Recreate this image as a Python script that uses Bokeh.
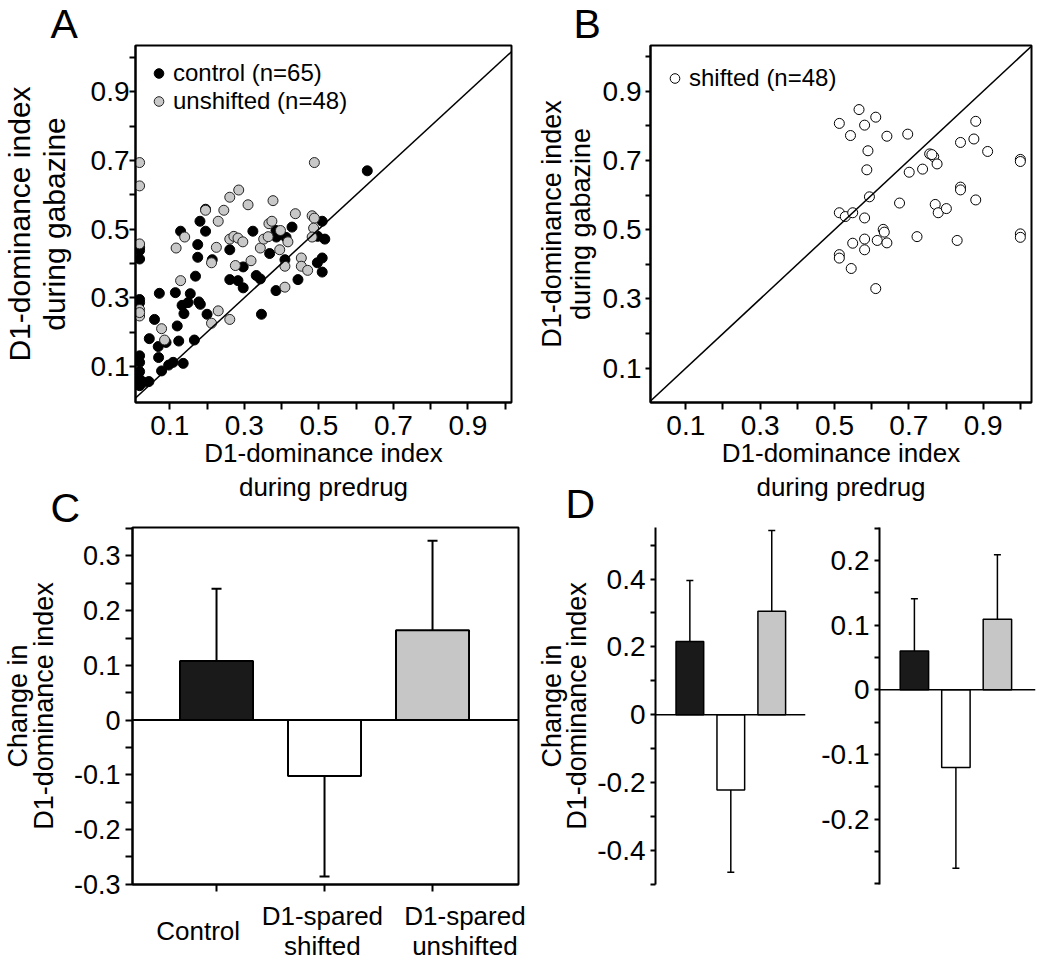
from bokeh.plotting import figure
from bokeh.layouts import row, column
from bokeh.models import (FixedTicker, Range1d, Legend, LegendItem, Span, Slope,
                          CustomJSTickFormatter)
from bokeh.core.properties import value
from bokeh.embed import file_html
from bokeh.resources import INLINE

FONT = "Liberation Sans"

# ---------------- data ----------------
# Panel A: control (n=65)
ctrl_pre = [0.019, 0.019, 0.019, 0.019, 0.019, 0.019, 0.019, 0.019, 0.019, 0.030,
            0.044, 0.045, 0.059, 0.069, 0.072, 0.070, 0.078, 0.090, 0.097, 0.109,
            0.120, 0.115, 0.124, 0.129, 0.133, 0.138, 0.136, 0.149, 0.155, 0.169,
            0.175, 0.175, 0.178, 0.182, 0.166, 0.181, 0.196, 0.196, 0.200, 0.214,
            0.261, 0.261, 0.283, 0.297, 0.297, 0.323, 0.332, 0.343, 0.346, 0.368,
            0.385, 0.386, 0.385, 0.409, 0.428, 0.444, 0.496, 0.497, 0.509, 0.509,
            0.509, 0.516, 0.630, 0.019, 0.412]
ctrl_gab = [0.447, 0.438, 0.413, 0.295, 0.286, 0.131, 0.085, 0.063, 0.044, 0.054,
            0.056, 0.181, 0.237, 0.158, 0.313, 0.126, 0.087, 0.170, 0.104, 0.112,
            0.218, 0.315, 0.174, 0.494, 0.278, 0.254, 0.109, 0.286, 0.312, 0.363,
            0.455, 0.418, 0.288, 0.281, 0.177, 0.523, 0.558, 0.494, 0.252, 0.411,
            0.440, 0.353, 0.350, 0.390, 0.329, 0.494, 0.365, 0.355, 0.252, 0.429,
            0.496, 0.477, 0.321, 0.411, 0.506, 0.353, 0.402, 0.479, 0.523, 0.416,
            0.375, 0.471, 0.670, 0.112, 0.476]
# Panel A: unshifted (n=48)
uns_pre = [0.019, 0.019, 0.019, 0.019, 0.019, 0.019, 0.078, 0.086, 0.117, 0.129,
           0.140, 0.196, 0.225, 0.230, 0.212, 0.212, 0.230, 0.245, 0.261, 0.285,
           0.261, 0.272, 0.283, 0.296, 0.276, 0.261, 0.310, 0.318, 0.343, 0.352,
           0.364, 0.366, 0.374, 0.377, 0.397, 0.395, 0.409, 0.409, 0.417, 0.437,
           0.453, 0.453, 0.470, 0.482, 0.488, 0.486, 0.482, 0.488]
uns_gab = [0.694, 0.626, 0.457, 0.266, 0.247, 0.257, 0.210, 0.177, 0.445, 0.350,
           0.477, 0.555, 0.447, 0.523, 0.402, 0.226, 0.262, 0.555, 0.593, 0.614,
           0.471, 0.479, 0.474, 0.463, 0.394, 0.237, 0.571, 0.408, 0.445, 0.471,
           0.478, 0.516, 0.523, 0.583, 0.496, 0.440, 0.392, 0.331, 0.463, 0.545,
           0.416, 0.392, 0.380, 0.539, 0.532, 0.503, 0.477, 0.694]
# Panel B: shifted (n=48)
sh_pre = [0.513, 0.566, 0.611, 0.543, 0.581, 0.641, 0.697, 0.590, 0.587, 0.594,
          0.513, 0.529, 0.549, 0.581, 0.581, 0.549, 0.581, 0.513, 0.513, 0.545,
          0.611, 0.615, 0.631, 0.634, 0.641, 0.675, 0.701, 0.737, 0.756, 0.767,
          0.776, 0.722, 0.771, 0.779, 0.801, 0.830, 0.839, 0.839, 0.839, 0.875,
          0.880, 0.880, 0.912, 1.000, 1.000, 1.000, 1.000, 0.762]
sh_gab = [0.807, 0.847, 0.825, 0.772, 0.802, 0.770, 0.776, 0.728, 0.673, 0.595,
          0.549, 0.538, 0.549, 0.534, 0.473, 0.461, 0.442, 0.428, 0.418, 0.388,
          0.330, 0.469, 0.501, 0.493, 0.462, 0.577, 0.666, 0.675, 0.719, 0.711,
          0.690, 0.480, 0.573, 0.549, 0.561, 0.469, 0.752, 0.623, 0.615, 0.762,
          0.813, 0.586, 0.726, 0.703, 0.697, 0.488, 0.478, 0.717]

# Panels C / D: change in D1-dominance index (mean, error)
groups = ["Control", "D1-spared\nshifted", "D1-spared\nunshifted"]
bar_colors = ["#1a1a1a", "#ffffff", "#c6c6c6"]
c_mean = [0.108, -0.102, 0.164]
c_err = [0.132, 0.184, 0.164]
d1_mean = [0.216, -0.222, 0.305]
d1_err = [0.180, 0.243, 0.238]
d2_mean = [0.060, -0.120, 0.109]
d2_err = [0.081, 0.156, 0.100]

scatter_major = [0.1, 0.3, 0.5, 0.7, 0.9]
scatter_minor = [0.2, 0.4, 0.6, 0.8, 1.0]
xlab_line1 = "D1-dominance index"
xlab_line2 = "during predrug"

# ---------------- layout constants (page starts at 0,0) ----------------
TOTAL_W = 1040
TOP_STRIP_H = 41
ROW1_H = 436
MID_STRIP_H = 48
ROW2_H = 373
BOTTOM_STRIP_H = 64
A_W, A_L, A_R = 520, 135, 9
B_W, B_L, B_R = 520, 130, 9
C_W, C_L, C_R = 533, 132, 15


def fmt():
    return CustomJSTickFormatter(
        code="return Math.abs(tick) < 1e-9 ? '0' : tick.toFixed(1);")


def style_axis(ax, tick_out, standoff, size="28px", lw=2):
    ax.major_tick_out = tick_out
    ax.major_tick_in = 0
    ax.minor_tick_out = tick_out
    ax.minor_tick_in = 0
    ax.major_tick_line_width = lw
    ax.minor_tick_line_width = lw
    ax.axis_line_width = lw
    ax.axis_line_color = "black"
    ax.major_tick_line_color = "black"
    ax.minor_tick_line_color = "black"
    ax.major_label_text_font = FONT
    ax.major_label_text_font_size = size
    ax.major_label_text_color = "black"
    ax.major_label_standoff = standoff
    ax.axis_label_text_font = FONT
    ax.axis_label_text_font_style = "normal"
    ax.axis_label_text_color = "black"


def base_fig(w, h, left, right, top, bottom, xr, yr, outline=True):
    p = figure(width=w, height=h, x_range=Range1d(*xr), y_range=Range1d(*yr),
               output_backend="svg", toolbar_location=None,
               min_border_left=left, min_border_right=right,
               min_border_top=top, min_border_bottom=bottom)
    p.grid.visible = False
    p.background_fill_color = "white"
    p.border_fill_color = "white"
    if outline:
        p.outline_line_color = "black"
        p.outline_line_width = 2
        p.outline_line_alpha = 1
    else:
        p.outline_line_color = None
    return p


def text_strip(w, h):
    s = figure(width=w, height=h, x_range=Range1d(0, w), y_range=Range1d(0, h),
               output_backend="svg", toolbar_location=None, min_border=0,
               x_axis_type=None, y_axis_type=None)
    s.grid.visible = False
    s.outline_line_color = None
    return s


def add_texts(s, xs, ys, texts, size, align="left", line_height=1.2):
    s.text(x=xs, y=ys, text=texts, text_font=value(FONT),
           text_font_size=value(size), text_color="black",
           text_align=align, text_baseline="middle", text_line_height=line_height)


def scatter_axes(p, ylab_size, ylab_standoff, ylab_lh, ytick_standoff, ytick_out):
    for ax in (p.xaxis[0], p.yaxis[0]):
        ax.ticker = FixedTicker(ticks=scatter_major, minor_ticks=scatter_minor)
        ax.formatter = fmt()
    style_axis(p.xaxis[0], 7, 6)
    style_axis(p.yaxis[0], ytick_out, ytick_standoff)
    p.xaxis.axis_label = xlab_line1
    p.xaxis.axis_label_text_font_size = "26px"
    p.xaxis.axis_label_standoff = 0
    p.yaxis.axis_label = "D1-dominance index\nduring gabazine"
    p.yaxis.axis_label_text_font_size = ylab_size
    p.yaxis.axis_label_text_line_height = ylab_lh
    p.yaxis.axis_label_standoff = ylab_standoff
    p.add_layout(Slope(gradient=1, y_intercept=0, line_color="black", line_width=1.5))


def make_legend(items, loc, standoff):
    return Legend(items=items, location=loc, padding=0, margin=0,
                  glyph_width=25, glyph_height=24, label_height=24,
                  label_standoff=standoff, spacing=0,
                  label_text_font=FONT, label_text_font_size="24px",
                  label_text_color="black",
                  background_fill_alpha=0, border_line_color=None)


# ---------------- panel letters A, B ----------------
top_strip = text_strip(TOTAL_W, TOP_STRIP_H)
add_texts(top_strip, [50, 573], [18, 18], ["A", "B"], "41px")

# ---------------- Panel A ----------------
pA = base_fig(A_W, ROW1_H, A_L, A_R, 2, 75, (0.008, 1.017), (-0.005, 1.035))
scatter_axes(pA, "30px", 17, 1.04, 0, 6)
rA1 = pA.scatter(ctrl_pre, ctrl_gab, size=10, fill_color="black", line_color="black",
                 line_width=1)
rA2 = pA.scatter(uns_pre, uns_gab, size=10, fill_color="#c8c8c8", line_color="#222222",
                 line_width=1)
pA.add_layout(make_legend([LegendItem(label="control (n=65)", renderers=[rA1]),
                           LegendItem(label="unshifted (n=48)", renderers=[rA2])],
                          (11, 287), 2))

# ---------------- Panel B ----------------
pB = base_fig(B_W, ROW1_H, B_L, B_R, 4, 75, (0.005, 1.030), (0.001, 1.032))
scatter_axes(pB, "27px", 4, 0.95, 4, 5)
rB = pB.scatter(sh_pre, sh_gab, size=10, fill_color="white", line_color="black",
                line_width=1)
pB.add_layout(make_legend([LegendItem(label="shifted (n=48)", renderers=[rB])],
                          (12, 310), 2))

# ---------------- second x-label line + letters C, D ----------------
a_mid = A_L + (A_W - A_L - A_R) / 2
b_mid = A_W + B_L + (B_W - B_L - B_R) / 2
mid_strip = text_strip(TOTAL_W, MID_STRIP_H)
add_texts(mid_strip, [a_mid, b_mid], [39, 39], [xlab_line2, xlab_line2], "26px",
          align="center")
add_texts(mid_strip, [50, 565], [18, 22], ["C", "D"], "41px")

# ---------------- bar panels ----------------
pos = list(range(1, len(groups) + 1))


def draw_bars(p, means, errs, width, lw, cap):
    tips = [m + (e if m >= 0 else -e) for m, e in zip(means, errs)]
    p.vbar(x=pos, top=means, bottom=0, width=width, fill_color=bar_colors,
           line_color="black", line_width=lw)
    p.segment(x0=pos, y0=means, x1=pos, y1=tips, line_color="black", line_width=lw)
    p.scatter(x=pos, y=tips, marker="dash", size=cap, line_color="black",
              line_width=lw)
    p.add_layout(Span(location=0, dimension="width", line_color="black",
                      line_width=lw))


def change_label(p, standoff):
    p.yaxis.axis_label = "Change in\nD1-dominance index"
    p.yaxis.axis_label_text_font_size = "27px"
    p.yaxis.axis_label_text_line_height = 0.85
    p.yaxis.axis_label_standoff = standoff


# Panel C
C_XR = (0.222, 3.796)
pC = base_fig(C_W, ROW2_H, C_L, C_R, 2, 14, C_XR, (-0.3005, 0.352))
draw_bars(pC, c_mean, c_err, 0.676, 2, 10)
pC.xaxis.ticker = FixedTicker(ticks=pos)
pC.xaxis.formatter = CustomJSTickFormatter(code="return '';")
style_axis(pC.xaxis[0], 7, 0)
pC.xaxis.major_label_text_font_size = "0px"
pC.yaxis.ticker = FixedTicker(ticks=[-0.3, -0.2, -0.1, 0, 0.1, 0.2, 0.3],
                              minor_ticks=[-0.25, -0.15, -0.05, 0.05, 0.15, 0.25, 0.35])
pC.yaxis.formatter = fmt()
style_axis(pC.yaxis[0], 7, 5, size="27px")
change_label(pC, 12)

# Panel D (left)
pD1 = base_fig(282, ROW2_H, 119, 10, 2, 14, (0.161, 3.824), (-0.501, 0.552),
               outline=False)
draw_bars(pD1, d1_mean, d1_err, 0.676, 1.5, 7)
pD1.xaxis.visible = False
pD1.yaxis.ticker = FixedTicker(ticks=[-0.4, -0.2, 0, 0.2, 0.4],
                               minor_ticks=[-0.5, -0.3, -0.1, 0.1, 0.3, 0.5])
pD1.yaxis.formatter = fmt()
style_axis(pD1.yaxis[0], 5, 5)
change_label(pD1, 2)

# Panel D (right)
pD2 = base_fig(225, ROW2_H, 64, 5, 1, 14, (0.159, 3.918), (-0.301, 0.251),
               outline=False)
draw_bars(pD2, d2_mean, d2_err, 0.685, 1.5, 7)
pD2.xaxis.visible = False
pD2.yaxis.ticker = FixedTicker(ticks=[-0.2, -0.1, 0, 0.1, 0.2],
                               minor_ticks=[-0.3, -0.25, -0.15, -0.05, 0.05, 0.15, 0.25])
pD2.yaxis.formatter = fmt()
style_axis(pD2.yaxis[0], 5, 5)

# category labels under panel C, placed with panel C's x scale
c_px_per_unit = (C_W - C_L - C_R) / (C_XR[1] - C_XR[0])
label_x = [0.83, 1.98, 3.30]
label_px = [C_L + (lx - C_XR[0]) * c_px_per_unit for lx in label_x]
bottom_strip = text_strip(TOTAL_W, BOTTOM_STRIP_H)
add_texts(bottom_strip, label_px, [BOTTOM_STRIP_H - 32] * len(label_px), groups,
          "26px", align="center", line_height=1.0)

layout = column(top_strip, row(pA, pB), mid_strip, row(pC, pD1, pD2), bottom_strip)

html = file_html(layout, INLINE)
html = html.replace("<head>", "<head><style>html, body {overflow: hidden;}</style>", 1)
with open("out.html", "w") as f:
    f.write(html)
